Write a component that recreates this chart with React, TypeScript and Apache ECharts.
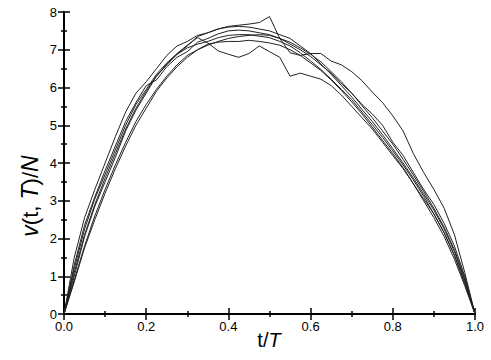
import React, { useEffect, useRef } from "react";
import * as echarts from "echarts";

const tGrid = [0, 0.025, 0.05, 0.075, 0.1, 0.125, 0.15, 0.175, 0.2, 0.225, 0.25, 0.275, 0.3, 0.325, 0.35, 0.375, 0.4, 0.425, 0.45, 0.475, 0.5, 0.525, 0.55, 0.575, 0.6, 0.625, 0.65, 0.675, 0.7, 0.725, 0.75, 0.775, 0.8, 0.825, 0.85, 0.875, 0.9, 0.925, 0.95, 0.975, 1];

const run1 = [0, 1.0, 2.05, 2.85, 3.5, 4.15, 4.85, 5.4, 5.85, 6.3, 6.6, 6.88, 7.1, 7.35, 7.45, 7.55, 7.62, 7.65, 7.68, 7.72, 7.88, 7.3, 6.92, 6.85, 6.9, 6.9, 6.7, 6.6, 6.42, 6.18, 5.88, 5.6, 5.25, 4.85, 4.25, 3.75, 3.3, 2.8, 2.1, 1.1, 0];
const run2 = [0, 1.2, 2.25, 3.05, 3.7, 4.35, 5.0, 5.55, 5.95, 6.35, 6.65, 6.9, 7.12, 7.32, 7.18, 6.97, 6.88, 6.8, 6.9, 7.1, 6.95, 6.8, 6.3, 6.38, 6.3, 6.22, 6.05, 5.8, 5.5, 5.2, 4.9, 4.55, 4.2, 3.85, 3.45, 3.05, 2.65, 2.15, 1.55, 0.8, 0];
const run3 = [0, 1.5, 2.55, 3.3, 4.0, 4.7, 5.35, 5.85, 6.15, 6.5, 6.85, 7.1, 7.22, 7.38, 7.45, 7.55, 7.6, 7.62, 7.6, 7.55, 7.5, 7.4, 7.3, 7.1, 6.9, 6.62, 6.35, 6.05, 5.75, 5.42, 5.1, 4.75, 4.38, 4.0, 3.6, 3.18, 2.75, 2.25, 1.65, 0.9, 0];
const run4 = [0, 1.3, 2.35, 3.1, 3.8, 4.45, 5.1, 5.6, 6.05, 6.2, 6.55, 6.8, 6.95, 7.2, 7.3, 7.42, 7.5, 7.52, 7.5, 7.45, 7.4, 7.3, 7.15, 7.0, 6.82, 6.6, 6.38, 6.1, 5.85, 5.55, 5.3, 5.0, 4.55, 4.2, 3.75, 3.3, 2.9, 2.4, 1.8, 1.0, 0];
const run5 = [0, 1.1, 2.1, 2.9, 3.6, 4.25, 4.9, 5.45, 5.9, 6.3, 6.62, 6.88, 7.05, 7.15, 7.22, 7.32, 7.38, 7.4, 7.4, 7.36, 7.32, 7.22, 7.1, 6.92, 6.7, 6.48, 6.22, 5.95, 5.68, 5.35, 5.02, 4.68, 4.32, 3.95, 3.55, 3.12, 2.65, 2.15, 1.55, 0.85, 0];
const run6 = [0, 0.9, 1.8, 2.6, 3.3, 3.95, 4.55, 5.1, 5.55, 5.95, 6.3, 6.6, 6.85, 7.0, 7.15, 7.2, 7.22, 7.22, 7.25, 7.22, 7.18, 7.12, 7.0, 6.85, 6.65, 6.45, 6.2, 5.92, 5.62, 5.3, 4.95, 4.6, 4.25, 3.88, 3.45, 3.0, 2.55, 2.05, 1.45, 0.75, 0];
const run7 = [0, 0.85, 1.75, 2.5, 3.2, 3.85, 4.45, 5.0, 5.45, 5.9, 6.25, 6.55, 6.8, 7.0, 7.12, 7.22, 7.3, 7.35, 7.38, 7.4, 7.38, 7.3, 7.2, 7.05, 6.88, 6.68, 6.42, 6.15, 5.85, 5.52, 5.2, 4.85, 4.5, 4.1, 3.68, 3.25, 2.8, 2.3, 1.7, 0.95, 0];

const runs = [run1, run2, run3, run4, run5, run6, run7];

const xTicks = [0, 0.2, 0.4, 0.6, 0.8, 1.0];
const yTicks = [0, 1, 2, 3, 4, 5, 6, 7, 8];

export default function App() {
  const ref = useRef<HTMLDivElement>(null);
  useEffect(() => {
    if (!ref.current) return;
    const chart = echarts.init(ref.current, null, { renderer: "svg" });
    const font = "'Liberation Sans', Arial, sans-serif";
    const axisLine = { show: true, lineStyle: { color: "#000", width: 2 } };
    const tick = { show: true, inside: true, length: 6, lineStyle: { color: "#000", width: 1.5 } };
    const minor = { show: true, splitNumber: 2, length: 3, lineStyle: { color: "#000", width: 1.5 } };
    const baseX = {
      type: "value" as const,
      min: xTicks[0],
      max: xTicks[xTicks.length - 1],
      interval: 0.2,
      axisLine,
      axisTick: tick,
      minorTick: minor,
      splitLine: { show: false },
    };
    const baseY = {
      type: "value" as const,
      min: yTicks[0],
      max: yTicks[yTicks.length - 1],
      interval: 1,
      axisLine,
      axisTick: tick,
      minorTick: minor,
      splitLine: { show: false },
    };
    chart.setOption({
      animation: false,
      grid: { left: 64, right: 16, top: 12, bottom: 46 },
      xAxis: [
        {
          ...baseX,
          position: "bottom",
          axisLabel: { show: true, color: "#000", fontSize: 13, fontFamily: font, margin: 6, formatter: (v: number) => v.toFixed(1) },
        },
        { ...baseX, position: "top", axisLabel: { show: false } },
      ],
      yAxis: [
        {
          ...baseY,
          position: "left",
          axisLabel: { show: true, color: "#000", fontSize: 13, fontFamily: font, margin: 7 },
        },
        { ...baseY, position: "right", axisLabel: { show: false } },
      ],
      series: runs.map((r) => ({
        type: "line",
        data: tGrid.map((t, i) => [t, r[i]]),
        showSymbol: false,
        smooth: false,
        lineStyle: { color: "#222", width: 1 },
        xAxisIndex: 0,
        yAxisIndex: 0,
      })),
      graphic: [
        {
          type: "text",
          x: 30,
          y: 196,
          rotation: Math.PI / 2,
          style: {
            text: "{i|v}{n|(t, }{i|T}{n|)/}{i|N}",
            align: "center",
            verticalAlign: "middle",
            rich: {
              i: { fontStyle: "italic", fontSize: 23, fontFamily: font, fill: "#000" },
              n: { fontSize: 22, fontFamily: font, fill: "#000" },
            },
          },
        },
        {
          type: "text",
          x: 269,
          y: 340,
          style: {
            text: "{n|t/}{i|T}",
            align: "center",
            verticalAlign: "middle",
            rich: {
              i: { fontStyle: "italic", fontSize: 20, fontFamily: font, fill: "#000" },
              n: { fontSize: 20, fontFamily: font, fill: "#000" },
            },
          },
        },
      ],
    });
    return () => chart.dispose();
  }, []);
  return <div ref={ref} style={{ width: 491, height: 360, position: "absolute", left: 0, top: 0 }} />;
}
